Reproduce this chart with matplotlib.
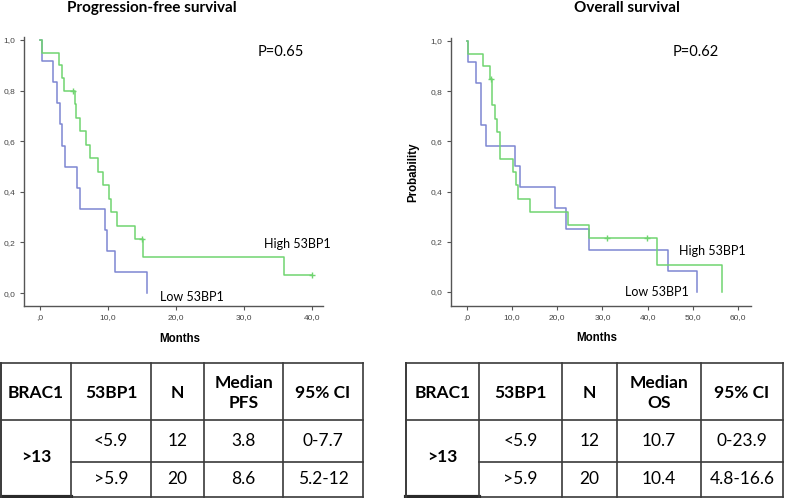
import matplotlib
matplotlib.use("Agg")
import matplotlib.pyplot as plt
from matplotlib.ticker import FuncFormatter

W, H = 785, 498

# --- Kaplan-Meier curves (step times in months, survival after the step) ---
pfs_low_t = [0.3, 1.9, 2.5, 2.9, 3.2, 3.7, 5.5, 5.9, 9.5, 9.8, 11.0, 15.8]
pfs_low_s = [0.917, 0.833, 0.75, 0.667, 0.583, 0.5, 0.417, 0.333, 0.25, 0.167, 0.083, 0.0]
pfs_high_t = [0.3, 2.8, 3.3, 3.6, 5.1, 5.3, 5.9, 6.7, 7.4, 8.6, 9.2, 10.2, 10.4, 11.3,
              13.9, 15.2, 35.8, 40.0]
pfs_high_s = [0.95, 0.90, 0.85, 0.80, 0.747, 0.693, 0.64, 0.587, 0.533, 0.48, 0.427,
              0.373, 0.32, 0.267, 0.213, 0.142, 0.071, 0.071]
pfs_high_cens_t = [4.8, 15.0, 40.0]
pfs_high_cens_s = [0.80, 0.213, 0.071]

os_low_t = [0.2, 2.0, 3.0, 3.2, 4.2, 10.6, 11.8, 19.4, 21.9, 27.1, 44.6, 50.9]
os_low_s = [0.917, 0.833, 0.75, 0.667, 0.583, 0.5, 0.417, 0.333, 0.25, 0.167, 0.083, 0.0]
os_high_t = [0.2, 3.5, 5.2, 5.5, 6.1, 6.6, 7.4, 10.3, 10.8, 11.4, 13.9, 22.4, 27.1,
             42.1, 56.5]
os_high_s = [0.95, 0.90, 0.85, 0.744, 0.691, 0.638, 0.531, 0.478, 0.425, 0.372, 0.319,
             0.266, 0.213, 0.106, 0.0]
os_high_cens_t = [5.4, 31.0, 39.9]
os_high_cens_s = [0.85, 0.213, 0.213]

p_pfs = "P=0.65"
p_os = "P=0.62"

# --- tables ---
headers_pfs = ["BRAC1", "53BP1", "N", "Median\nPFS", "95% CI"]
headers_os = ["BRAC1", "53BP1", "N", "Median\nOS", "95% CI"]
brac1_group = ">13"
bp1_groups = ["<5.9", ">5.9"]
n_counts = ["12", "20"]
median_pfs = ["3.8", "8.6"]
ci_pfs = ["0-7.7", "5.2-12"]
median_os = ["10.7", "10.4"]
ci_os = ["0-23.9", "4.8-16.6"]

GREEN = "#70d470"
BLUE = "#7d86d2"
CAL = ["Lato", "DejaVu Sans"]
ARIAL = ["Liberation Sans", "DejaVu Sans"]

fig = plt.figure(figsize=(W / 100, H / 100), dpi=100)


def rect(x0, y0, x1, y1):
    return [x0 / W, 1 - y1 / H, (x1 - x0) / W, (y1 - y0) / H]


def fmt_x(v, pos):
    s = f"{v:.1f}".replace(".", ",")
    return s[1:] if s.startswith("0,") else s


def fmt_y(v, pos):
    return f"{v:.1f}".replace(".", ",")


def km(ax, t, s, color):
    ax.plot([0] + t, [1.0] + s, drawstyle="steps-post", color=color, lw=1.1)


def setup(ax, xmax, step):
    for sp in ["top", "right"]:
        ax.spines[sp].set_visible(False)
    for sp in ["left", "bottom"]:
        ax.spines[sp].set_color("#555555")
        ax.spines[sp].set_linewidth(1.0)
    ax.set_xticks([i * step for i in range(int(xmax / step) + 1)])
    ax.set_yticks([0, 0.2, 0.4, 0.6, 0.8, 1.0])
    ax.xaxis.set_major_formatter(FuncFormatter(fmt_x))
    ax.yaxis.set_major_formatter(FuncFormatter(fmt_y))
    ax.tick_params(direction="out", length=3, width=0.8, color="#555555",
                   labelsize=6, labelcolor="#444444", pad=3)
    for lab in ax.get_xticklabels() + ax.get_yticklabels():
        lab.set_family(ARIAL)


# left: PFS
ax1 = fig.add_axes(rect(24, 37, 323, 306))
ax1.set_xlim(-2.35, 41.6)
ax1.set_ylim(-0.051, 1.012)
km(ax1, pfs_low_t, pfs_low_s, BLUE)
km(ax1, pfs_high_t, pfs_high_s, GREEN)
ax1.plot(pfs_high_cens_t, pfs_high_cens_s, "+", color=GREEN, ms=4, mew=1)
setup(ax1, 40, 10)

# right: OS
ax2 = fig.add_axes(rect(451, 38, 751, 306))
ax2.set_xlim(-3.54, 62.9)
ax2.set_ylim(-0.056, 1.012)
km(ax2, os_low_t, os_low_s, BLUE)
km(ax2, os_high_t, os_high_s, GREEN)
ax2.plot(os_high_cens_t, os_high_cens_s, "+", color=GREEN, ms=4, mew=1)
setup(ax2, 60, 10)
ax2.set_ylabel("Probability", family=ARIAL, fontsize=8.3, fontweight="bold", labelpad=8)

# overlay for free text and tables (pixel coordinates)
ov = fig.add_axes([0, 0, 1, 1])
ov.set_xlim(0, W)
ov.set_ylim(H, 0)
ov.axis("off")

ov.text(152, 8, "Progression-free survival", family=CAL, fontsize=11,
        fontweight="bold", ha="center", va="center")
ov.text(627, 8, "Overall survival", family=CAL, fontsize=11,
        fontweight="bold", ha="center", va="center")
ov.text(281, 52, p_pfs, family=CAL, fontsize=10.5, ha="center", va="center")
ov.text(696, 52, p_os, family=CAL, fontsize=10.5, ha="center", va="center")
ov.text(297, 244, "High 53BP1", family=CAL, fontsize=9, ha="center", va="center")
ov.text(192, 297, "Low 53BP1", family=CAL, fontsize=9, ha="center", va="center")
ov.text(712, 251, "High 53BP1", family=CAL, fontsize=9, ha="center", va="center")
ov.text(657, 292, "Low 53BP1", family=CAL, fontsize=9, ha="center", va="center")
ov.text(180, 339, "Months", family=ARIAL, fontsize=8.3, fontweight="bold",
        ha="center", va="center")
ov.text(597, 338, "Months", family=ARIAL, fontsize=8.3, fontweight="bold",
        ha="center", va="center")


def draw_table(cols, headers, medians, cis):
    top, hdr, mid, bot = 363, 419.5, 461.5, 496.5
    lc = "#3a3a3a"
    # outer and row lines
    ov.plot([cols[0], cols[-1]], [top, top], color=lc, lw=1.2)
    ov.plot([cols[0], cols[-1]], [hdr, hdr], color=lc, lw=1.2)
    ov.plot([cols[1], cols[-1]], [mid, mid], color=lc, lw=1.2)
    ov.plot([cols[1], cols[-1]], [bot, bot], color=lc, lw=1.2)
    ov.plot([cols[0], cols[1]], [bot, bot], color="#2a2a2a", lw=3)
    for i, x in enumerate(cols):
        ov.plot([x, x], [top, bot], color=lc, lw=1.4 if i == 0 else 1.2)
    # header
    for i, h in enumerate(headers):
        cx = (cols[i] + cols[i + 1]) / 2
        ov.text(cx, 393, h, family=CAL, fontsize=12.5, fontweight="bold",
                ha="center", va="center", linespacing=1.25)
    # body
    ov.text((cols[0] + cols[1]) / 2, 457, brac1_group, family=CAL, fontsize=12.5,
            fontweight="bold", ha="center", va="center")
    for r, y in enumerate([441, 479]):
        vals = [bp1_groups[r], n_counts[r], medians[r], cis[r]]
        for j, v in enumerate(vals):
            cx = (cols[j + 1] + cols[j + 2]) / 2
            ov.text(cx, y, v, family=CAL, fontsize=12.5, ha="center", va="center")


draw_table([1, 71, 151, 204, 283, 363], headers_pfs, median_pfs, ci_pfs)
draw_table([406, 479, 562, 617, 701, 783], headers_os, median_os, ci_os)

fig.savefig("out.png", dpi=100)
